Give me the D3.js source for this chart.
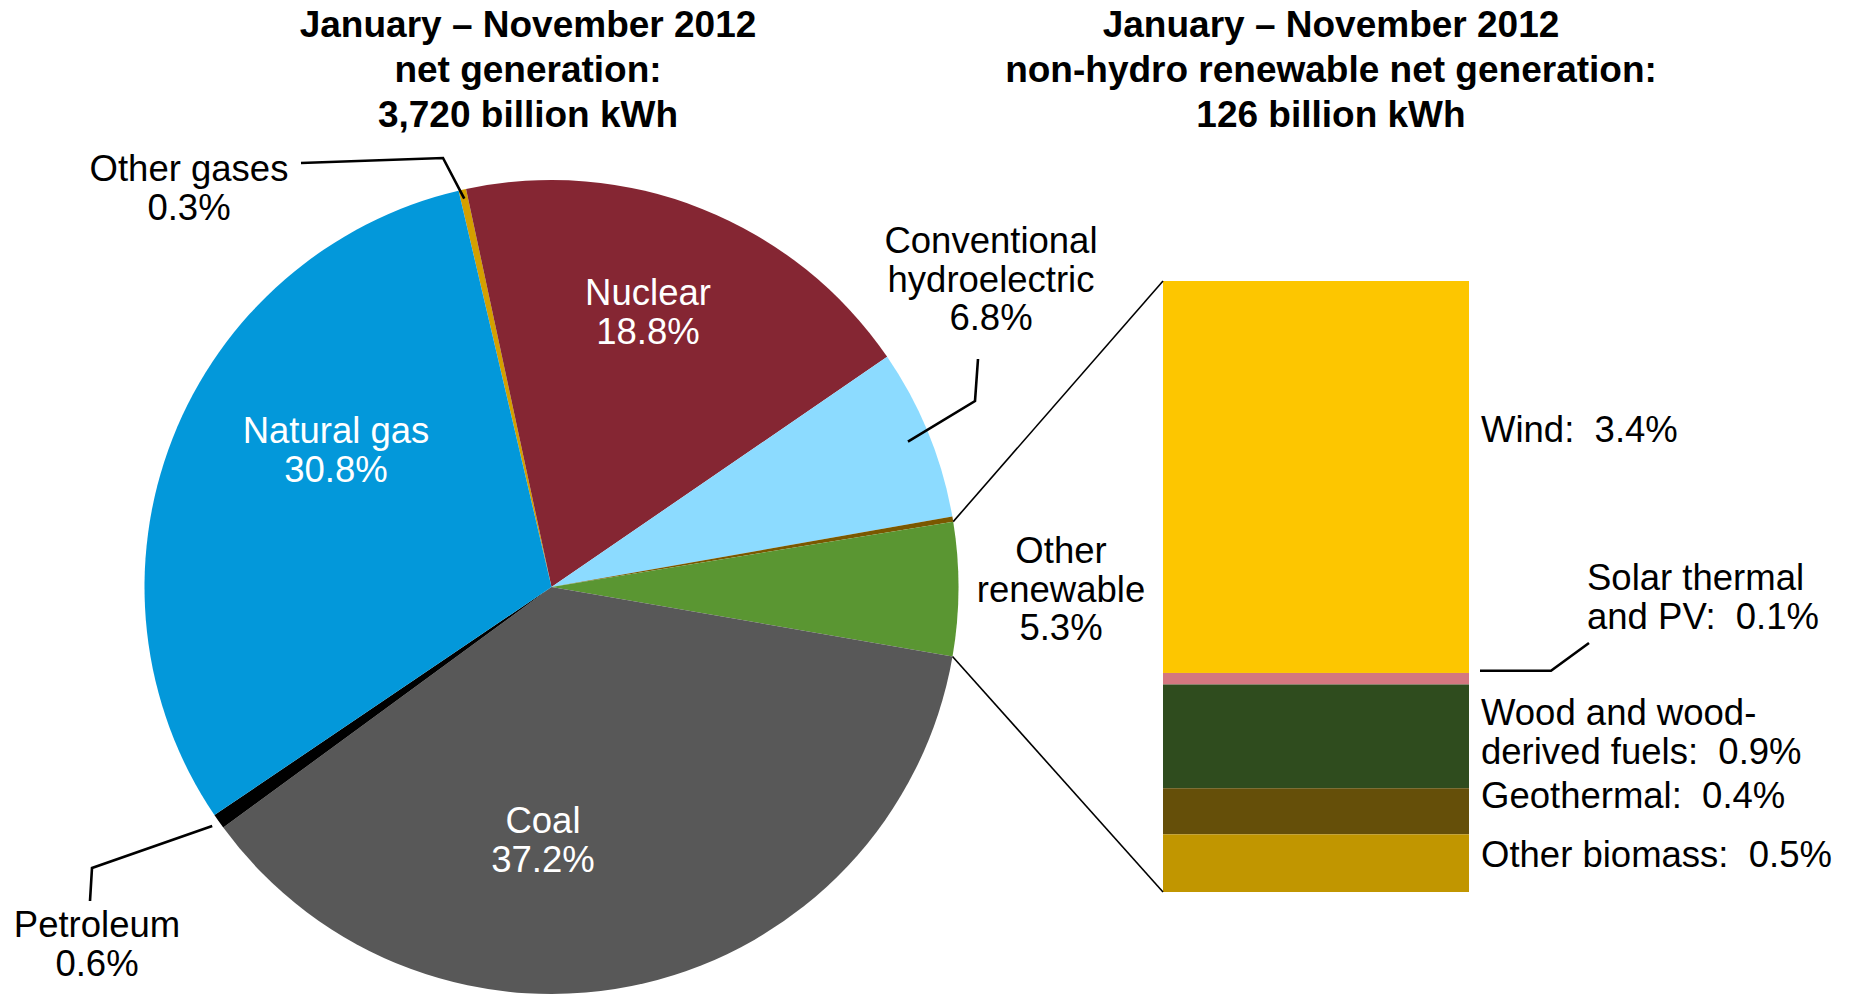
<!DOCTYPE html>
<html>
<head>
<meta charset="utf-8">
<title>Net generation, January - November 2012</title>
<script src="https://d3js.org/d3.v7.min.js"></script>
<style>
  body { margin: 0; background: #fff; }
  svg { font-family: "Liberation Sans", Arial, sans-serif; }
  text { white-space: pre; }
  .lbl { font-size: 36.5px; fill: #000; }
  .inner { font-size: 36.5px; fill: #fff; }
  .title { font-size: 37px; font-weight: bold; fill: #000; }
</style>
</head>
<body>
<svg width="1851" height="995"></svg>
<script>
// total net generation, share by source (%), clockwise from "Other gases"
var sources = ["Other gases", "Nuclear", "Conventional hydroelectric", "Other",
               "Other renewable", "Coal", "Petroleum", "Natural gas"];
var shares = [0.3, 18.8, 6.8, 0.2, 5.3, 37.2, 0.6, 30.8];
var sourceColors = ["#D4A000", "#852633", "#8CDBFF", "#7A5800",
                    "#5A9632", "#585858", "#000000", "#0398DA"];

// non-hydro renewables, top to bottom of the bar (% of total)
var renewables = ["Wind", "Solar thermal and PV", "Wood and wood-derived fuels",
                  "Geothermal", "Other biomass"];
var renewableShares = [3.4, 0.1, 0.9, 0.4, 0.5];
var renewableColors = ["#FDC600", "#D47780", "#2F4C1E", "#654F09", "#C19600"];

var titleLeft = ["January \u2013 November 2012", "net generation:", "3,720 billion kWh"];
var titleRight = ["January \u2013 November 2012", "non-hydro renewable net generation:", "126 billion kWh"];

var svg = d3.select("svg");
var cx = 551.5, cy = 587, r = 407;
var deg = Math.PI / 180;

var pie = d3.pie().sort(null).value(function(d) { return d; })
  .startAngle(-13.2 * deg).endAngle(346.8 * deg);
var arcs = pie(shares);
var arc = d3.arc().innerRadius(0).outerRadius(r);

var g = svg.append("g").attr("transform", "translate(" + cx + "," + cy + ")");
g.selectAll("path")
  .data(arcs)
  .enter().append("path")
  .attr("d", arc)
  .attr("fill", function(d, i) { return sourceColors[i]; });

function polar(a, rad) {
  return [cx + rad * Math.sin(a), cy - rad * Math.cos(a)];
}
function mid(d) { return (d.startAngle + d.endAngle) / 2; }

// titles
function title(lines, x) {
  svg.append("g").selectAll("text")
    .data(lines)
    .enter().append("text")
    .attr("class", "title")
    .attr("text-anchor", "middle")
    .attr("x", x)
    .attr("y", function(d, i) { return 37 + i * 45; })
    .text(function(d) { return d; });
}
title(titleLeft, 528);
title(titleRight, 1331);

// slice labels
function label(lines, x, y, cls, anchor) {
  svg.append("g").selectAll("text")
    .data(lines)
    .enter().append("text")
    .attr("class", cls)
    .attr("text-anchor", anchor || "middle")
    .attr("x", x)
    .attr("y", function(d, i) { return y + i * 38.5; })
    .text(function(d) { return d; });
}
function pct(v) { return v.toFixed(1) + "%"; }

label(["Nuclear", pct(shares[1])], 648, 305, "inner");
label(["Natural gas", pct(shares[7])], 336, 443, "inner");
label(["Coal", pct(shares[5])], 543, 833, "inner");
label(["Other gases", pct(shares[0])], 189, 181, "lbl");
label(["Petroleum", pct(shares[6])], 97, 937, "lbl");
label(["Conventional", "hydroelectric", pct(shares[2])], 991, 253, "lbl");
label(["Other", "renewable", pct(shares[4])], 1061, 563, "lbl");

// leader lines
var line = d3.line();
function leader(pts) {
  svg.append("path")
    .attr("d", line(pts))
    .attr("fill", "none")
    .attr("stroke", "#000")
    .attr("stroke-width", 2.6);
}
leader([[301, 163], [443, 158], polar(mid(arcs[0]), 398)]);
leader([[90, 901], [92, 868], polar(mid(arcs[6]), 415)]);
leader([[978, 359], [975, 401], polar(mid(arcs[2]), 385)]);

// renewable bar
var barX = 1163, barW = 306;
var total = d3.sum(renewableShares);
var y = d3.scaleLinear().domain([0, total]).range([281, 892]);
var cum = d3.cumsum(renewableShares);

svg.append("g").selectAll("rect")
  .data(renewableShares)
  .enter().append("rect")
  .attr("x", barX)
  .attr("width", barW)
  .attr("y", function(d, i) { return y(cum[i] - d); })
  .attr("height", function(d) { return y(d) - y(0); })
  .attr("fill", function(d, i) { return renewableColors[i]; });

// zoom connectors from the "Other renewable" slice to the bar
var orArc = arcs[4];
[[orArc.startAngle, y(0)], [orArc.endAngle, y(total)]].forEach(function(p) {
  svg.append("path")
    .attr("d", line([polar(p[0], r), [barX, p[1]]]))
    .attr("stroke", "#000")
    .attr("stroke-width", 1.6);
});

// bar labels
var lx = 1481;
label(["Wind:  " + pct(renewableShares[0])], lx, 442, "lbl", "start");
label(["Solar thermal", "and PV:  " + pct(renewableShares[1])], 1587, 590, "lbl", "start");
label(["Wood and wood-", "derived fuels:  " + pct(renewableShares[2])], lx, 725, "lbl", "start");
label(["Geothermal:  " + pct(renewableShares[3])], lx, 808, "lbl", "start");
label(["Other biomass:  " + pct(renewableShares[4])], lx, 867, "lbl", "start");

var solarMid = y(cum[1] - renewableShares[1] / 2);
leader([[1480, solarMid - 8], [1551, solarMid - 8], [1589, 643]]);
</script>
</body>
</html>
